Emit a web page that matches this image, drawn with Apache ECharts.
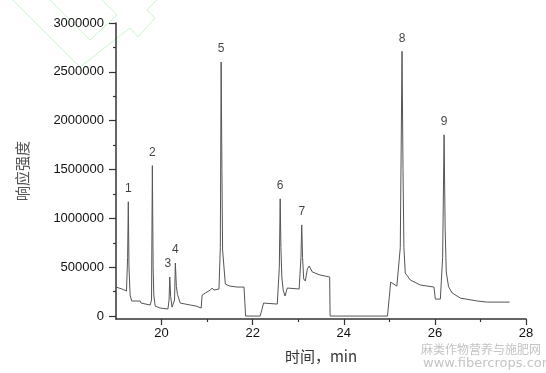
<!DOCTYPE html>
<html>
<head>
<meta charset="utf-8">
<script src="https://cdn.jsdelivr.net/npm/echarts@6/dist/echarts.min.js"></script>
<style>
  html, body { margin: 0; padding: 0; background: #fff; }
  #chart { width: 546px; height: 373px; }
</style>
</head>
<body>
<div id="chart"></div>
<script>
// retention time (min) and detector response of the trace
const times = [
    19.00, 19.13, 19.23, 19.255, 19.27, 19.285, 19.31, 19.345, 19.53, 19.55,
    19.75, 19.78, 19.798, 19.815, 19.83, 19.86, 19.97, 20.14, 20.165, 20.18,
    20.20, 20.23, 20.285, 20.303, 20.325, 20.35, 20.41, 20.52, 20.63, 20.76,
    20.87, 20.89, 20.96, 21.07, 21.11, 21.15, 21.26, 21.29, 21.308, 21.325,
    21.34, 21.40, 21.50, 21.66, 21.81, 21.845, 22.165, 22.24, 22.54, 22.585,
    22.604, 22.62, 22.64, 22.67, 22.71, 22.76, 23.02, 23.06, 23.077, 23.095,
    23.12, 23.155, 23.20, 23.24, 23.31, 23.48, 23.69, 23.70, 24.96, 25.03,
    25.165, 25.24, 25.279, 25.30, 25.32, 25.35, 25.46, 25.68, 25.98, 26.01,
    26.12, 26.17, 26.202, 26.225, 26.25, 26.30, 26.38, 26.56, 26.93, 27.15,
    27.64
];
const signal = [
    297000, 277000, 256000, 600000, 1170000, 500000, 215000, 154000, 154000, 133000,
    113000, 164000, 1540000, 500000, 215000, 102000, 82000, 72000, 164000, 400000,
    200000, 92000, 164000, 543000, 300000, 220000, 133000, 123000, 113000, 102000,
    82000, 215000, 236000, 266000, 287000, 266000, 277000, 700000, 2600000, 1500000,
    676000, 328000, 307000, 297000, 297000, 0, 0, 133000, 123000, 500000,
    1200000, 700000, 400000, 266000, 205000, 287000, 277000, 600000, 933000, 600000,
    380000, 359000, 480000, 512000, 451000, 420000, 400000, 0, 0, 348000,
    307000, 700000, 2710000, 1500000, 700000, 441000, 369000, 318000, 297000, 174000,
    174000, 600000, 1855000, 900000, 450000, 300000, 236000, 184000, 154000, 143000,
    143000
];

// numbered peaks
const peakNames = ['1', '2', '3', '4', '5', '6', '7', '8', '9'];
const peakTimes = [19.27, 19.798, 20.18, 20.303, 21.308, 22.604, 23.077, 25.279, 26.202];
const peakHeights = [1170000, 1540000, 400000, 543000, 2600000, 1200000, 933000, 2710000, 1855000];

// axis ticks
const xTicks = [20, 22, 24, 26, 28];
const xMinorTicks = [21, 23, 25, 27];
const yTicks = [0, 500000, 1000000, 1500000, 2000000, 2500000, 3000000];
const yMinorTicks = [250000, 750000, 1250000, 1750000, 2250000, 2750000];

const traceData = times.map((t, i) => [t, signal[i]]);
const peakData = peakTimes.map((t, i) => ({
    value: [t, peakHeights[i]],
    name: peakNames[i],
    label: peakNames[i] === '3' ? { offset: [-2, 0] } : undefined
}));

const axisColor = '#333';
const labelFont = {
    color: '#111',
    fontSize: 13,
    fontFamily: 'Liberation Sans, Arial, sans-serif'
};

var myChart = echarts.init(document.getElementById('chart'));

option = {
    backgroundColor: '#fff',
    animation: false,
    grid: {
        left: 116,
        right: 20,
        top: 23,
        bottom: 54
    },
    xAxis: [
        {
            type: 'value',
            min: 19,
            max: 28,
            name: '时间，min',
            nameLocation: 'middle',
            nameGap: 30,
            nameTextStyle: {
                color: '#333',
                fontSize: 15,
                fontFamily: 'Noto Sans CJK SC'
            },
            axisLine: { onZero: false, lineStyle: { color: axisColor, width: 1.5 } },
            axisTick: { customValues: xTicks, length: 6, lineStyle: { color: axisColor, width: 1.2 } },
            axisLabel: Object.assign({
                customValues: xTicks,
                margin: 8,
                formatter: (v) => String(v)
            }, labelFont),
            splitLine: { show: false }
        },
        {
            type: 'value',
            min: 19,
            max: 28,
            position: 'bottom',
            axisLine: { show: false, onZero: false },
            axisTick: { customValues: xMinorTicks, length: 3, lineStyle: { color: axisColor, width: 1.2 } },
            axisLabel: { show: false },
            splitLine: { show: false }
        }
    ],
    yAxis: [
        {
            type: 'value',
            min: -30000,
            max: 3000000,
            name: '响应强度',
            nameLocation: 'middle',
            nameRotate: 90,
            nameGap: 86,
            nameTextStyle: {
                color: '#555',
                fontSize: 15,
                fontFamily: 'Noto Sans CJK SC'
            },
            axisLine: { show: true, onZero: false, lineStyle: { color: axisColor, width: 1.5 } },
            axisTick: { show: true, customValues: yTicks, length: 7, lineStyle: { color: axisColor, width: 1.2 } },
            axisLabel: Object.assign({
                customValues: yTicks,
                margin: 12,
                formatter: (v) => String(v)
            }, labelFont),
            splitLine: { show: false }
        },
        {
            type: 'value',
            min: -30000,
            max: 3000000,
            position: 'left',
            axisLine: { show: false, onZero: false },
            axisTick: { show: true, customValues: yMinorTicks, length: 3, lineStyle: { color: axisColor, width: 1.2 } },
            axisLabel: { show: false },
            splitLine: { show: false }
        }
    ],
    series: [
        {
            name: 'trace',
            type: 'line',
            data: traceData,
            showSymbol: false,
            symbol: 'none',
            lineStyle: { color: '#555', width: 1 }
        },
        {
            name: 'peaks',
            type: 'scatter',
            data: peakData,
            symbolSize: 0,
            label: {
                show: true,
                position: 'top',
                distance: 7,
                formatter: (params) => params.name,
                color: '#111',
                fontSize: 12,
                fontFamily: 'Liberation Sans, Arial, sans-serif'
            }
        }
    ],
    graphic: [
        {
            type: 'polyline',
            silent: true,
            shape: { points: [[50, 0], [90, 40], [117, 15], [102, 0]] },
            style: { stroke: '#c8f7c8', lineWidth: 1, fill: null }
        },
        {
            type: 'polyline',
            silent: true,
            shape: { points: [[13, 0], [80, 67], [130, 28], [138, 37], [155, 18], [147, 10], [157, 0]] },
            style: { stroke: '#c8f7c8', lineWidth: 1, fill: null }
        },
        {
            type: 'text',
            silent: true,
            left: 421,
            top: 343,
            style: {
                text: '麻类作物营养与施肥网',
                fill: '#c4c4c4',
                font: '12px "Noto Sans CJK SC"'
            }
        },
        {
            type: 'text',
            silent: true,
            left: 423,
            top: 357,
            style: {
                text: 'www.fibercrops.com',
                fill: '#c4c4c4',
                font: '13px "DejaVu Sans"'
            }
        }
    ]
};
myChart.setOption(option);
</script>
</body>
</html>
